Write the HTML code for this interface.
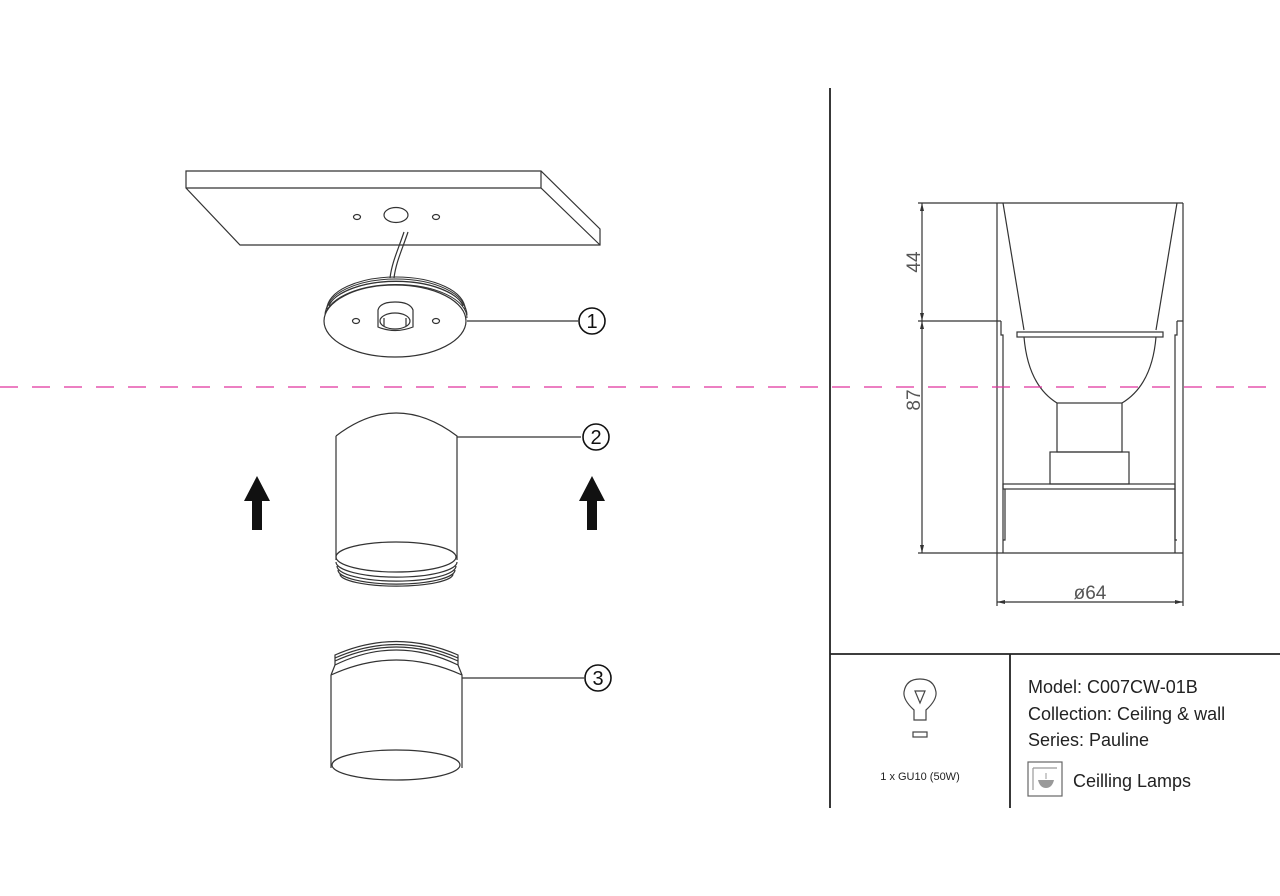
<!DOCTYPE html>
<html><head><meta charset="utf-8"><style>
html,body{margin:0;padding:0;background:#fff}
svg{display:block}
text{font-family:"Liberation Sans",sans-serif}
</style></head><body>
<svg width="1280" height="896" viewBox="0 0 1280 896" xmlns="http://www.w3.org/2000/svg">
<g fill="none" stroke="#333" stroke-width="1.2">
<!-- plate -->
<path d="M186,171 L541,171 L600,229 L600,245 L240,245 L186,188 Z"/>
<path d="M186,188 L541,188 L600,245 M541,171 L541,188"/>
<ellipse cx="357" cy="217" rx="3.5" ry="2.5"/>
<ellipse cx="396" cy="215" rx="12" ry="7.5"/>
<ellipse cx="436" cy="217" rx="3.5" ry="2.5"/>
<path d="M404,232 C398,250 392,262 390,278 M408,232 C402,250 396,262 394,278"/>
<!-- disk 1 -->
<path d="M326,312 A70,33 0 0 1 466,312" stroke-width="1"/>
<path d="M325,315 A70,33 0 0 1 467,315" stroke-width="1"/>
<path d="M325,318 A70,33 0 0 1 467,318" stroke-width="1"/>
<path d="M327,309 A69,32 0 0 1 465,309" stroke-width="1"/>
<path d="M329,306 A68,30 0 0 1 463,306" stroke-width="1"/>
<ellipse cx="395" cy="321" rx="71" ry="36" fill="#fff"/>
<path d="M378,327 L378,310 Q380,302 395,302 Q410,302 413,310 L413,327 Q395,334 378,327 Z"/>
<ellipse cx="395" cy="321" rx="15" ry="8"/>
<path d="M384,318 L384,326 M406,318 L406,326"/>
<ellipse cx="356" cy="321" rx="3.5" ry="2.5"/>
<ellipse cx="436" cy="321" rx="3.5" ry="2.5"/>
<line x1="467" y1="321" x2="578" y2="321"/>
<!-- part 2 -->
<path d="M336,436 Q396,390 457,436 L457,560 M336,436 L336,560"/>
<ellipse cx="396" cy="557" rx="60" ry="15"/>
<path d="M336,562 A60,15 0 0 0 457,562 M337,566 A59,15 0 0 0 456,566 M338,570 A58,14 0 0 0 455,570 M340,574 A56,12 0 0 0 453,574"/>
<line x1="457" y1="437" x2="581" y2="437"/>
<!-- part 3 -->
<path d="M335,665 Q396,635 458,665 L458,655 Q396,628 335,655 Z M335,661 Q396,633 458,661 M335,658 Q396,631 458,658"/>
<path d="M331,675 Q396,645 462,675 L462,768 M331,675 L331,768 M335,665 L331,675 M458,665 L462,675"/>
<ellipse cx="396" cy="765" rx="64" ry="15"/>
<line x1="462" y1="678" x2="584" y2="678"/>
<!-- frames -->
<g stroke="#222" stroke-width="1.8">
<line x1="830" y1="88" x2="830" y2="808"/>
<line x1="830" y1="654" x2="1280" y2="654"/>
<line x1="1010" y1="654" x2="1010" y2="808"/>
</g>
<!-- right drawing -->
<line x1="918" y1="203" x2="997" y2="203"/><line x1="918" y1="321" x2="997" y2="321"/><line x1="918" y1="553" x2="997" y2="553"/>
<line x1="922" y1="203" x2="922" y2="553"/>
<line x1="997" y1="553" x2="997" y2="606"/><line x1="1183" y1="553" x2="1183" y2="606"/>
<line x1="997" y1="602" x2="1183" y2="602"/>
<path d="M997,203 L997,553 M1183,203 L1183,553 M997,203 L1183,203 M997,553 L1183,553"/>
<path d="M1001,321 L1001,335 L1003,335 L1003,553 M1177,321 L1177,335 L1175,335 L1175,553 M997,321 L1001,321 M1177,321 L1183,321"/>
<path d="M1003,203 L1024,330 M1177,203 L1156,330"/>
<rect x="1017" y="332" width="146" height="5"/>
<path d="M1024,337 Q1028,385 1057,403 M1156,337 Q1152,385 1122,403"/>
<rect x="1057" y="403" width="65" height="49"/>
<rect x="1050" y="452" width="79" height="32"/>
<rect x="1003" y="484" width="172" height="5"/>
<path d="M1005,489 L1005,540 L1003,540 M1175,489 L1175,540 L1177,540"/>
</g>
<!-- dimension arrowheads -->
<g fill="#333">
<path d="M922,203 l-2,8 h4 z"/><path d="M922,321 l-2,-8 h4 z"/><path d="M922,321 l-2,8 h4 z"/><path d="M922,553 l-2,-8 h4 z"/>
<path d="M997,602 l8,-2 v4 z"/><path d="M1183,602 l-8,-2 v4 z"/>
</g>
<g fill="#555" font-size="19">
<text transform="translate(920,262) rotate(-90)" text-anchor="middle">44</text>
<text transform="translate(920,400) rotate(-90)" text-anchor="middle">87</text>
<text x="1090" y="599" text-anchor="middle">ø64</text>
</g>
<!-- pink axis -->
<line x1="0" y1="387" x2="1280" y2="387" stroke="#e0339e" stroke-width="1.2" stroke-dasharray="18,14"/>
<!-- arrows -->
<g fill="#111">
<path d="M257,476 L244,501 L252,501 L252,530 L262,530 L262,501 L270,501 Z"/>
<path d="M592,476 L579,501 L587,501 L587,530 L597,530 L597,501 L605,501 Z"/>
</g>
<!-- circled numbers -->
<g fill="none" stroke="#111" stroke-width="1.6">
<circle cx="592" cy="321" r="13"/><circle cx="596" cy="437" r="13"/><circle cx="598" cy="678" r="13"/>
</g>
<g font-family="Liberation Serif,serif" font-size="20" fill="#111" text-anchor="middle">
<text x="592" y="328">1</text><text x="596" y="444">2</text><text x="598" y="685">3</text>
</g>
<!-- bulb icon -->
<g fill="none" stroke="#444" stroke-width="1.2">
<path d="M914,720 L914,710 Q903,700 904,692 Q906,679 920,679 Q934,679 936,692 Q937,700 926,710 L926,720 Z"/>
<path d="M915,691 L925,691 L920,703 Z"/>
<rect x="913" y="732" width="14" height="5"/>
<rect x="1028" y="762" width="34" height="34" stroke="#666"/>
<path d="M1033,768 L1057,768 M1033,768 L1033,790" stroke="#999"/>
</g>
<path d="M1038,780 L1054,780 Q1052,788 1046,788 Q1040,788 1038,780 Z" fill="#999"/>
<line x1="1046" y1="773" x2="1046" y2="779" stroke="#999"/>
<text x="920" y="780" text-anchor="middle" font-size="11" fill="#222">1 x GU10 (50W)</text>
<g font-size="18" fill="#222">
<text x="1028" y="693">Model: C007CW-01B</text>
<text x="1028" y="720">Collection: Ceiling &amp; wall</text>
<text x="1028" y="746">Series: Pauline</text>
<text x="1073" y="787">Ceilling Lamps</text>
</g>
</svg>
</body></html>
